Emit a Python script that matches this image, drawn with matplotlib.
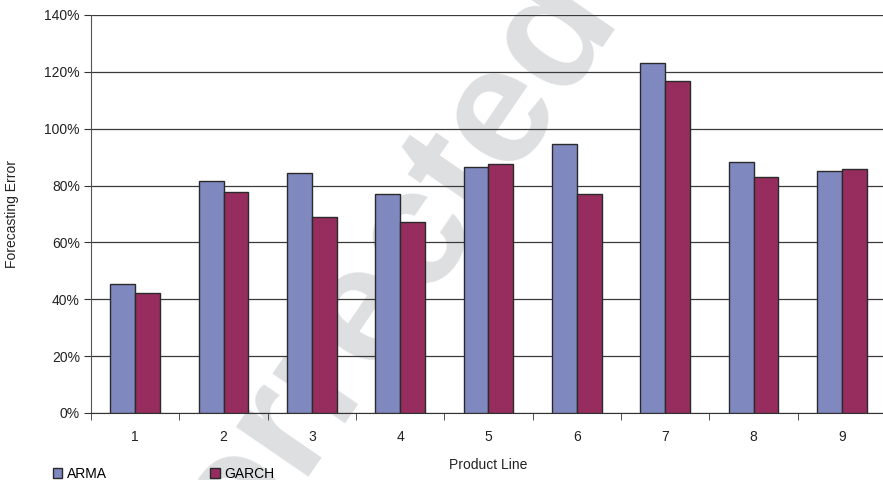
import numpy as np
import matplotlib
matplotlib.use("Agg")
import matplotlib.pyplot as plt
from matplotlib.ticker import PercentFormatter

plt.rcParams['font.family'] = ['Liberation Sans', 'DejaVu Sans']

# data (forecasting error, %)
product_lines = ["1", "2", "3", "4", "5", "6", "7", "8", "9"]
arma = [45.3, 81.6, 84.3, 77.0, 86.5, 94.6, 123.1, 88.3, 85.2]
garch = [42.1, 77.6, 68.9, 67.3, 87.5, 77.1, 116.8, 82.9, 85.9]
series_names = ["ARMA", "GARCH"]
y_ticks = [0, 20, 40, 60, 80, 100, 120, 140]

arma_color = "#8088C0"
garch_color = "#962D5E"
edge = "#2a2a2a"

fig = plt.figure(figsize=(8.83, 4.8), dpi=100)
ax = fig.add_axes([91/883, 1 - 413/480, 795/883, 398/480])
ax.set_facecolor("none")

# faint watermark behind everything (runs off the page like in the original)
fig.text(305/883, 1 - 392/480, "Uncorrected", fontsize=120, fontweight="bold",
         color="#DEDFE1", rotation=55.6, ha="center", va="center",
         rotation_mode="anchor", zorder=-1)

x = np.arange(1, len(product_lines) + 1)
w = 0.283
ax.bar(x - w/2, arma, w, color=arma_color, edgecolor=edge, linewidth=1, zorder=3, label=series_names[0])
ax.bar(x + w/2, garch, w, color=garch_color, edgecolor=edge, linewidth=1, zorder=3, label=series_names[1])

ax.set_ylim(0, 140)
ax.set_yticks(y_ticks)
ax.yaxis.set_major_formatter(PercentFormatter(decimals=0))
ax.set_xlim(0.5, len(product_lines) + 0.5)

ax.set_xticks(x)
ax.set_xticklabels(product_lines)
ax.set_xticks(np.arange(0.5, len(product_lines) + 1, 1), minor=True)
ax.tick_params(axis="x", which="major", length=0, pad=12.5, labelsize=10, labelcolor="#222222")
ax.tick_params(axis="x", which="minor", length=5, direction="out", color="#333333")
ax.tick_params(axis="y", length=5, direction="out", color="#333333", labelsize=10, labelcolor="#222222", pad=3)

ax.grid(axis="y", color="#3a3a3a", linewidth=0.9, zorder=1)
ax.set_axisbelow(True)
for s in ["top", "right"]:
    ax.spines[s].set_visible(False)
ax.spines["left"].set_color("#555555")
ax.spines["bottom"].set_color("#333333")

ax.set_xlabel("Product Line", fontsize=10, color="#222222", labelpad=10)
ax.set_ylabel("Forecasting Error", fontsize=10, color="#222222", labelpad=18)

fig.legend(loc="lower left", bbox_to_anchor=(43/883, -0.022), ncol=2, frameon=False,
           fontsize=10, handlelength=0.7, handleheight=0.7, handletextpad=0.3,
           columnspacing=7.45, borderpad=0.2)

fig.savefig("out.png", dpi=100)
